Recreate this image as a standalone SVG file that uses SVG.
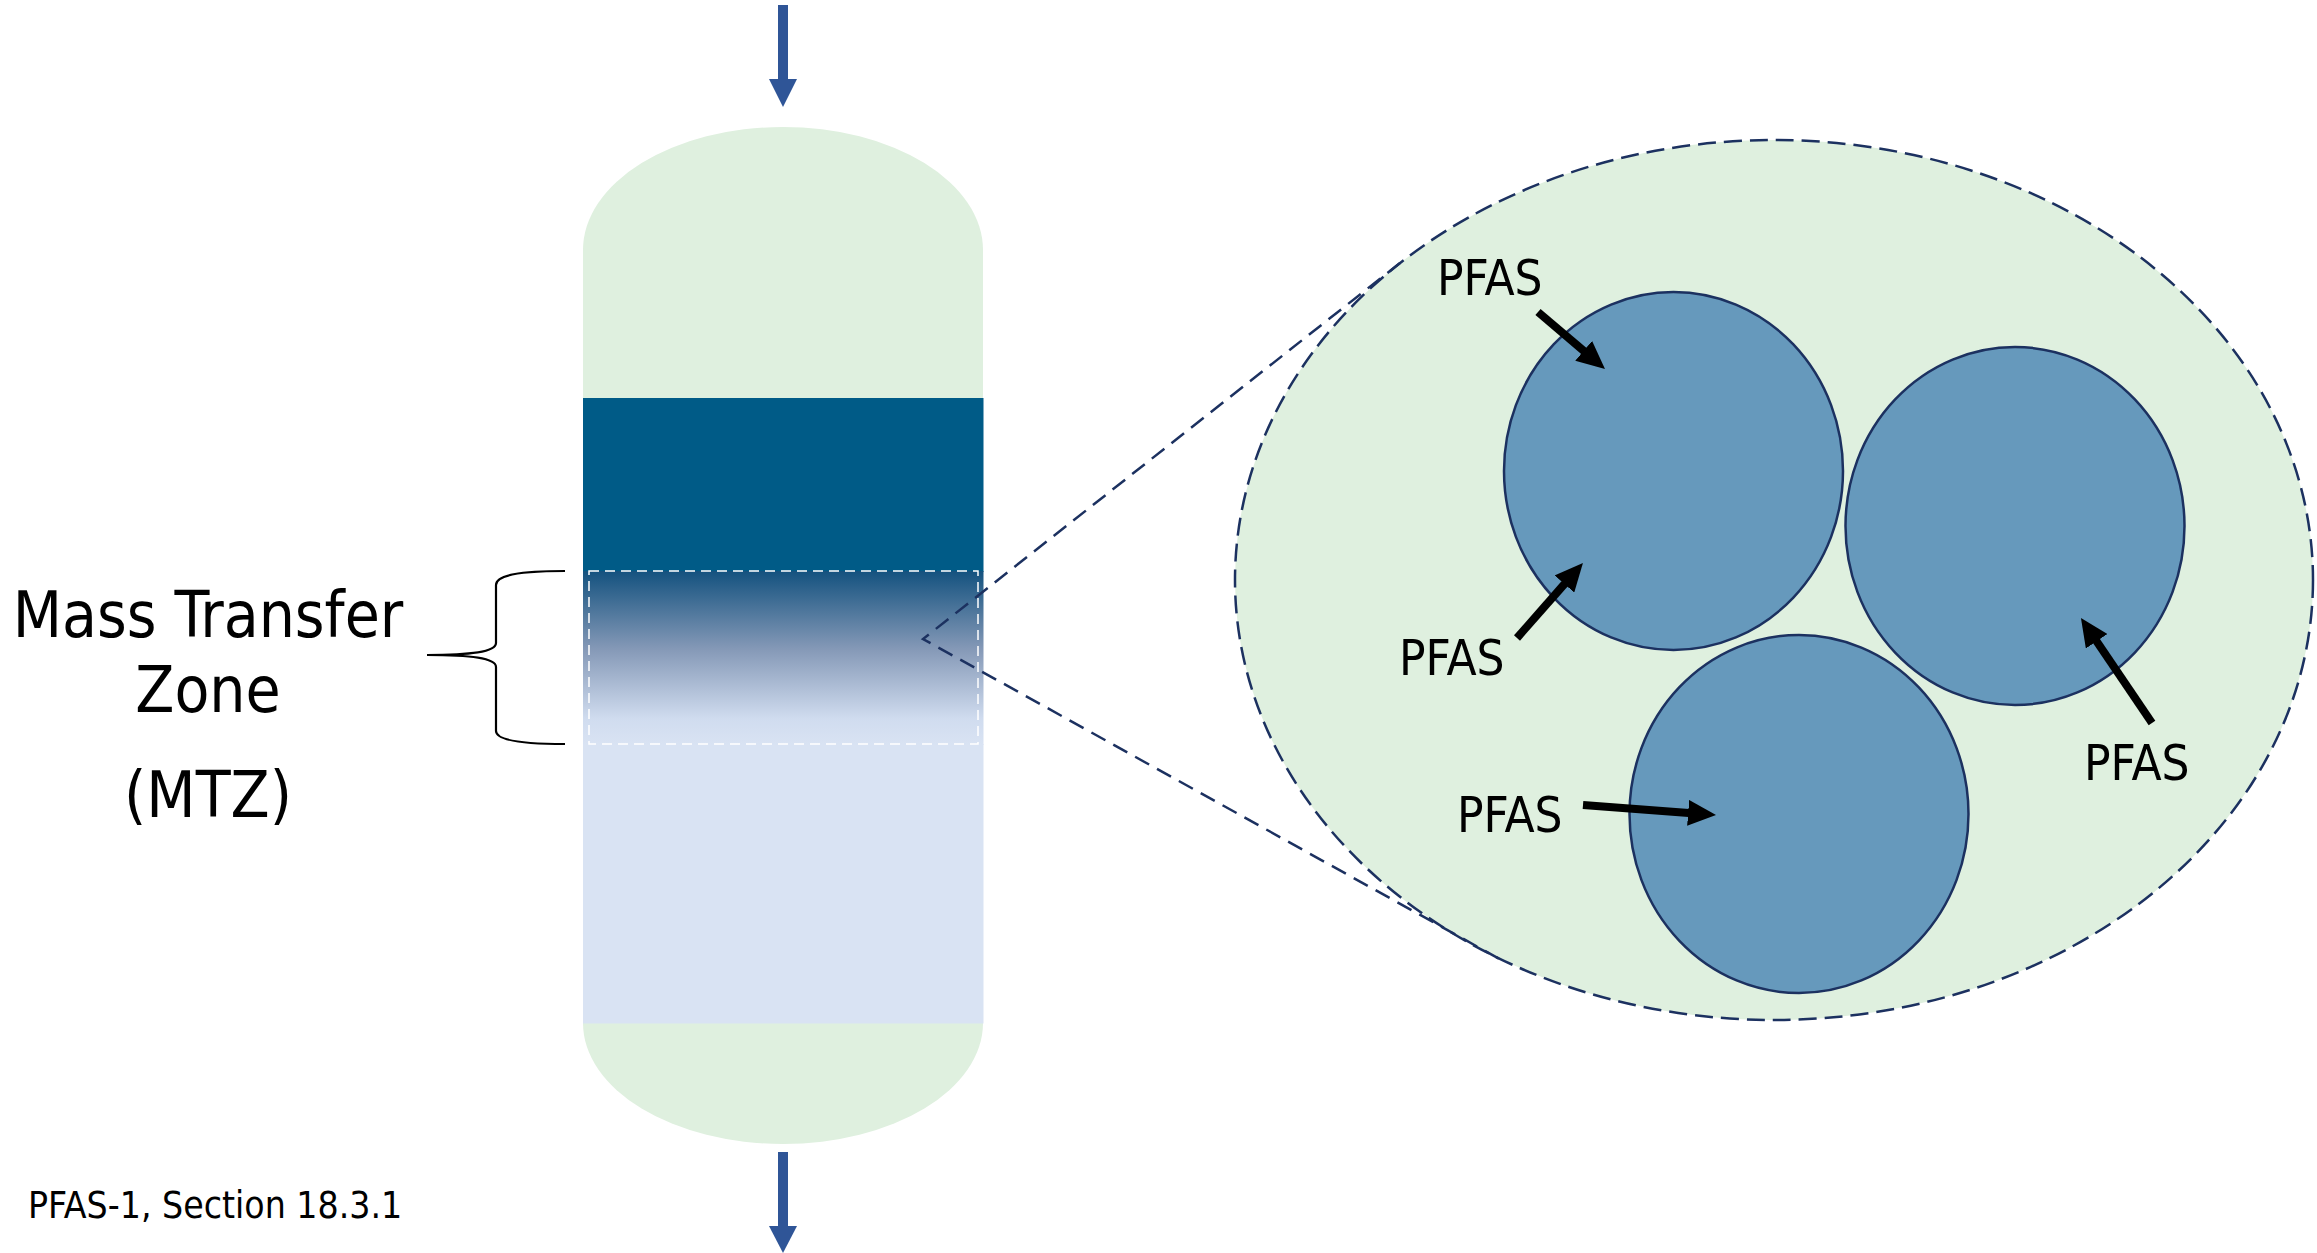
<svg xmlns="http://www.w3.org/2000/svg" width="2317" height="1253" viewBox="0 0 2317 1253">
<defs>
<linearGradient id="mtz" x1="0" y1="0" x2="0" y2="1">
<stop offset="0" stop-color="#14527f"/>
<stop offset="0.45" stop-color="#8599b7"/>
<stop offset="0.85" stop-color="#d0dcef"/>
<stop offset="1" stop-color="#d9e3f3"/>
</linearGradient>
<marker id="blk" markerUnits="userSpaceOnUse" markerWidth="28" markerHeight="26" viewBox="0 0 28 26" refX="4" refY="13" orient="auto">
<path d="M0,0 L28,13 L0,26 Z" fill="#000"/>
</marker>
</defs>
<style>
.lbl{font-family:'DejaVu Sans Condensed','DejaVu Sans',sans-serif;fill:#000}
.pfas{font-size:49px}
.big{font-size:63.5px;text-anchor:middle}
.bead{fill:#6699bc;stroke:#1c3160;stroke-width:2.5}
.flow{fill:#2f5597}
.parr{stroke:#000;stroke-width:8;fill:none;marker-end:url(#blk)}
.zoomline{fill:none;stroke:#1c3160;stroke-width:2.5;stroke-dasharray:16 9}
</style>
<g id="column">
<path d="M583,250 A200,123 0 0 1 983,250 V1023 A200,121 0 0 1 583,1023 Z" fill="#dff0df"/>
<rect x="583" y="398" width="400.5" height="174" fill="#005b87"/>
<rect x="583" y="571" width="400.5" height="174" fill="url(#mtz)"/>
<rect x="583" y="744" width="400.5" height="279.5" fill="#d9e3f3"/>
<rect x="589" y="571" width="389" height="173" fill="none" stroke="#ffffff" stroke-width="1.5" stroke-dasharray="10 6"/>
</g>
<g id="flow-in">
<rect x="778" y="5" width="10" height="75" class="flow"/>
<path d="M769,79 L797,79 L783,107 Z" class="flow"/>
</g>
<g id="flow-out">
<rect x="778" y="1152" width="10" height="75" class="flow"/>
<path d="M769,1226 L797,1226 L783,1253 Z" class="flow"/>
</g>
<g id="mtz-label">
<path d="M565,571 C520,571 496,575 496,585 V643 C496,652 470,655 427,655 C470,655 496,658 496,667 V731 C496,740 520,744 565,744" fill="none" stroke="#000" stroke-width="2.2"/>
<text class="lbl big" x="208" y="637">Mass Transfer</text>
<text class="lbl big" x="208" y="712">Zone</text>
<text class="lbl big" x="208" y="817">(MTZ)</text>
</g>
<g id="magnified">
<ellipse cx="1774" cy="580" rx="539" ry="440" fill="#dff0df" stroke="#1c3160" stroke-width="2.5" stroke-dasharray="18 8"/>
<ellipse id="bead1" class="bead" cx="1673.5" cy="471" rx="169.5" ry="179"/>
<ellipse id="bead2" class="bead" cx="2015" cy="526" rx="169.5" ry="179"/>
<ellipse id="bead3" class="bead" cx="1799" cy="814" rx="169.5" ry="179"/>
</g>
<g id="connectors">
<polyline class="zoomline" points="1400,263 923,639 1505,962"/>
<line class="parr" x1="1538" y1="312" x2="1586.7" y2="353.4"/>
<line class="parr" x1="1517" y1="638" x2="1567.1" y2="581"/>
<line class="parr" x1="1583" y1="805" x2="1692.1" y2="813.2"/>
<line class="parr" x1="2152" y1="723" x2="2094.4" y2="637.9"/>
</g>
<g id="labels">
<text class="lbl pfas" x="1437" y="295">PFAS</text>
<text class="lbl pfas" x="1399" y="675">PFAS</text>
<text class="lbl pfas" x="1457" y="832">PFAS</text>
<text class="lbl pfas" x="2084" y="780">PFAS</text>
<text class="lbl" x="28" y="1218" font-size="37">PFAS-1, Section 18.3.1</text>
</g>
</svg>
